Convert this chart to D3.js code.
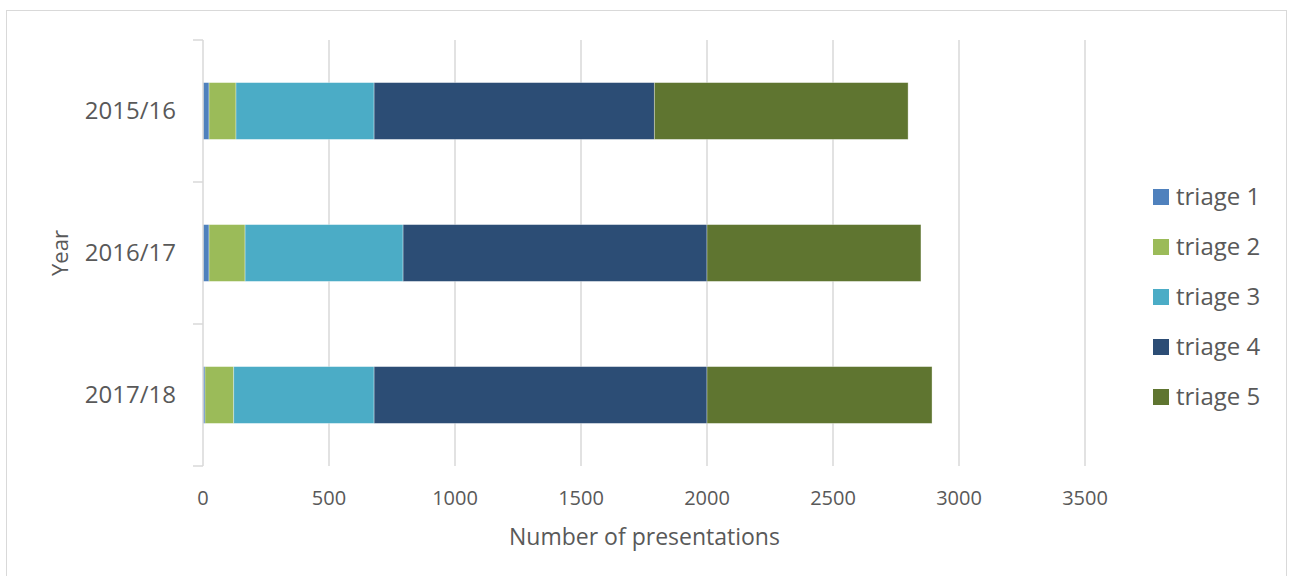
<!DOCTYPE html>
<html>
<head>
<meta charset="utf-8">
<script src="https://cdn.jsdelivr.net/npm/d3@7"></script>
<style>
  body { margin: 0; background: #fff; }
  text { font-family: "Open Sans", "Noto Sans", sans-serif; fill: #595959; }
</style>
</head>
<body>
<script>
// data
var years = ["2015/16", "2016/17", "2017/18"];
var series = ["triage 1", "triage 2", "triage 3", "triage 4", "triage 5"];
var triage1 = [24, 24, 8];
var triage2 = [107, 143, 114];
var triage3 = [548, 627, 557];
var triage4 = [1112, 1206, 1321];
var triage5 = [1007, 849, 893];
var xTicks = [0, 500, 1000, 1500, 2000, 2500, 3000, 3500];
var colors = ["#4f81bd", "#9bbb59", "#4bacc6", "#2c4d75", "#5f7530"];

var width = 1290, height = 576;
var plot = {left: 203, right: 1085, top: 40, bottom: 466};

var rows = years.map(function(y, i) {
  return {year: y, "triage 1": triage1[i], "triage 2": triage2[i], "triage 3": triage3[i],
          "triage 4": triage4[i], "triage 5": triage5[i]};
});
var stacked = d3.stack().keys(series)(rows);

var svg = d3.select("body").append("svg")
  .attr("width", width)
  .attr("height", height);

// outer frame
svg.append("rect")
  .attr("x", 6.5).attr("y", 10.5)
  .attr("width", 1280).attr("height", 580)
  .attr("fill", "none")
  .attr("stroke", "#d9d9d9");

var xScale = d3.scaleLinear().domain([0, 3500]).range([plot.left, plot.right]);
var yScale = d3.scaleBand().domain(years).range([plot.top, plot.bottom])
  .paddingInner(0.6).paddingOuter(0.3);

// gridlines
svg.append("g").selectAll("line")
  .data(xTicks.slice(1))
  .enter().append("line")
  .attr("x1", function(d) { return xScale(d); })
  .attr("x2", function(d) { return xScale(d); })
  .attr("y1", plot.top).attr("y2", plot.bottom)
  .attr("stroke", "#d9d9d9").attr("stroke-width", 1.5);

// bars
svg.append("g").selectAll("g")
  .data(stacked)
  .enter().append("g")
  .attr("fill", function(d, i) { return colors[i]; })
  .selectAll("rect")
  .data(function(d) { return d; })
  .enter().append("rect")
  .attr("x", function(d) { return xScale(d[0]); })
  .attr("width", function(d) { return xScale(d[1]) - xScale(d[0]); })
  .attr("y", function(d) { return yScale(d.data.year); })
  .attr("height", yScale.bandwidth())
  .attr("stroke", "#fff").attr("stroke-opacity", 0.45).attr("stroke-width", 0.75);

// y axis line and category separators
var step = yScale.step();
svg.append("line")
  .attr("x1", plot.left).attr("x2", plot.left)
  .attr("y1", plot.top).attr("y2", plot.bottom)
  .attr("stroke", "#d9d9d9").attr("stroke-width", 1.5);
svg.append("g").selectAll("line")
  .data(d3.range(years.length + 1))
  .enter().append("line")
  .attr("x1", plot.left - 10).attr("x2", plot.left)
  .attr("y1", function(i) { return plot.top + i * step; })
  .attr("y2", function(i) { return plot.top + i * step; })
  .attr("stroke", "#d9d9d9").attr("stroke-width", 1.5);

// category labels
svg.append("g").selectAll("text")
  .data(years)
  .enter().append("text")
  .attr("x", 176)
  .attr("y", function(d) { return yScale(d) + yScale.bandwidth() / 2; })
  .attr("dy", "0.35em")
  .attr("text-anchor", "end")
  .style("font-size", "24px")
  .text(function(d) { return d; });

// x tick labels
svg.append("g").selectAll("text")
  .data(xTicks)
  .enter().append("text")
  .attr("x", function(d) { return xScale(d); })
  .attr("y", 505)
  .attr("text-anchor", "middle")
  .style("font-size", "20px")
  .text(function(d) { return d; });

// axis titles
svg.append("text")
  .attr("x", (plot.left + plot.right) / 2 + 0.5)
  .attr("y", 545)
  .attr("text-anchor", "middle")
  .style("font-size", "23px")
  .text("Number of presentations");

svg.append("text")
  .attr("transform", "translate(68," + ((plot.top + plot.bottom) / 2) + ") rotate(-90)")
  .attr("text-anchor", "middle")
  .style("font-size", "22px")
  .text("Year");

// legend
var legend = svg.append("g").selectAll("g")
  .data(series)
  .enter().append("g")
  .attr("transform", function(d, i) { return "translate(1153," + (197 + i * 50) + ")"; });
legend.append("rect")
  .attr("x", 0).attr("y", -8)
  .attr("width", 16).attr("height", 16)
  .attr("fill", function(d, i) { return colors[i]; });
legend.append("text")
  .attr("x", 23).attr("y", 0)
  .attr("dy", "0.35em")
  .style("font-size", "24px")
  .text(function(d) { return d; });
</script>
</body>
</html>
